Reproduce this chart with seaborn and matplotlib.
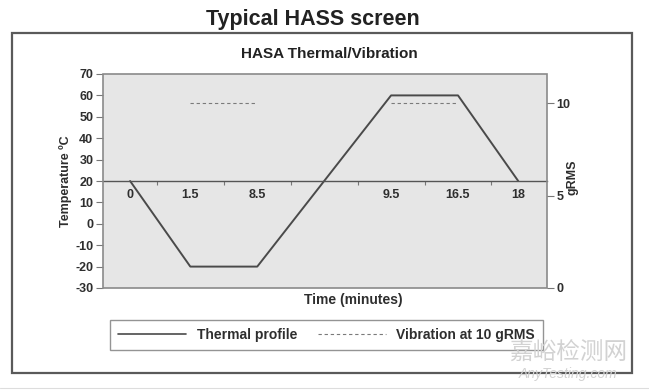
import matplotlib
matplotlib.use("Agg")
import matplotlib.pyplot as plt
import seaborn as sns
import pandas as pd
from matplotlib.patches import Rectangle
from matplotlib.lines import Line2D

# ---- data ----
time_labels = ["0", "1.5", "8.5", "9.5", "16.5", "18"]
time_pos = [0.1, 1.0, 2.0, 4.0, 5.0, 5.9]          # axis position of each time label
thermal_temp = [20, -20, -20, 60, 60, 20]           # degC
vib_pos = [1.0, 2.0, 4.0, 5.0]
vib_grms = [10, 10, 10, 10]
vib_seg = [1, 1, 2, 2]
temp_ticks = [-30, -20, -10, 0, 10, 20, 30, 40, 50, 60, 70]
grms_ticks = [0, 5, 10]

sns.set_theme(style="white")
plt.rcParams["font.family"] = ["Liberation Sans", "DejaVu Sans"]

TXT = "#2e2e2e"
fig = plt.figure(figsize=(6.49, 3.91), dpi=100)
W, H = 649, 391
ax = fig.add_axes([103 / W, 1 - 288 / H, 444 / W, 214 / H])
ax.set_facecolor("#e6e6e6")

thermal = pd.DataFrame({"pos": time_pos, "temp": thermal_temp})
sns.lineplot(data=thermal, x="pos", y="temp", ax=ax, color="#4a4a4a", lw=1.4,
             estimator=None, sort=False)

ax.set_xlim(-0.305, 6.33)
ax.set_ylim(-30, 70)
ax.set_yticks(temp_ticks)
ax.set_yticklabels([str(t) for t in temp_ticks], fontsize=9, fontweight="bold", color=TXT)

for s in ["top", "right", "left"]:
    ax.spines[s].set_visible(False)
ax.spines["bottom"].set_position(("data", 20))
ax.spines["bottom"].set_color("#555555")
ax.spines["bottom"].set_linewidth(1.0)
ax.add_patch(Rectangle((0, 0), 1, 1, transform=ax.transAxes, fill=False,
                       edgecolor="#8a8a8a", lw=1.2, zorder=5, clip_on=False))

ax.set_xticks(time_pos)
ax.set_xticklabels(time_labels, fontsize=9, fontweight="bold", color=TXT)
ax.set_xticks([0.5, 1.5, 2.5, 3.5, 4.5, 5.5], minor=True)
ax.tick_params(axis="x", which="major", length=0, pad=6)
ax.tick_params(axis="x", which="minor", length=3, width=0.8, color="#777777", direction="out", bottom=True)
ax.tick_params(axis="y", left=True, length=5, width=0.8, color="#777777", direction="out", pad=2)
ax.set_xlabel("")
ax.set_ylabel("Temperature ºC", fontsize=9, fontweight="bold", color=TXT, labelpad=2)

ax2 = ax.twinx()
vib = pd.DataFrame({"pos": vib_pos, "g": vib_grms, "seg": vib_seg})
sns.lineplot(data=vib, x="pos", y="g", units="seg", estimator=None, ax=ax2,
             color="#7a7a7a", lw=0.8, dashes=False, linestyle=(0, (3, 2.5)))
ax2.set_ylim(0, 11.57)
ax2.set_yticks(grms_ticks)
ax2.set_yticklabels([str(t) for t in grms_ticks], fontsize=9, fontweight="bold", color=TXT)
ax2.tick_params(axis="y", right=True, length=5, width=0.8, color="#777777", direction="out", pad=2)
for s in ax2.spines.values():
    s.set_visible(False)
ax2.set_ylabel("gRMS", fontsize=9, fontweight="bold", color=TXT, rotation=90)
ax2.yaxis.set_label_coords(1.045, 0.519)
ax2.set_xlabel("")
ax2.grid(False)
ax.grid(False)

fig.text(353 / W, 1 - 300 / H, "Time (minutes)", ha="center", va="center",
         fontsize=10, fontweight="bold", color=TXT)

# titles
fig.text(313 / W, 1 - 19 / H, "Typical HASS screen", ha="center", va="center",
         fontsize=15.5, fontweight="bold", color="#222222")
fig.text(329 / W, 1 - 54 / H, "HASA Thermal/Vibration", ha="center", va="center",
         fontsize=11, fontweight="bold", color="#222222")

# outer frame
fig.patches.append(Rectangle((12 / W, 1 - 373 / H), (632 - 12) / W, (373 - 33) / H,
                             transform=fig.transFigure, fill=False, edgecolor="#5a5a5a", lw=1.6))

# legend
handles = [Line2D([], [], color="#4a4a4a", lw=1.2),
           Line2D([], [], color="#7a7a7a", lw=0.8, linestyle=(0, (3, 2.5)))]
leg = fig.legend(handles, ["Thermal profile", "Vibration at 10 gRMS"], ncol=2,
                 loc="center", bbox_to_anchor=(326.5 / W, 1 - 335 / H),
                 frameon=True, fancybox=False, handlelength=4.9,
                 handletextpad=0.75, columnspacing=1.5, borderpad=0.55, borderaxespad=0,
                 prop={"size": 10, "weight": "bold"}, labelcolor=TXT)
leg.get_frame().set_edgecolor("#7a7a7a")
leg.get_frame().set_linewidth(1.0)

# watermark
fig.text(568 / W, 1 - 353 / H, "嘉峪检测网", ha="center", va="center", fontsize=17,
         color="#d2d2d2", family=["Noto Sans CJK SC", "DejaVu Sans"], zorder=10)
fig.text(568 / W, 1 - 374 / H, "AnyTesting.com", ha="center", va="center", fontsize=10,
         color="#d2d2d2", style="italic", zorder=10)
fig.add_artist(Line2D([0, 1], [1 - 388 / H, 1 - 388 / H], transform=fig.transFigure,
                      color="#dddddd", lw=0.8))

fig.savefig("out.png", dpi=100)
